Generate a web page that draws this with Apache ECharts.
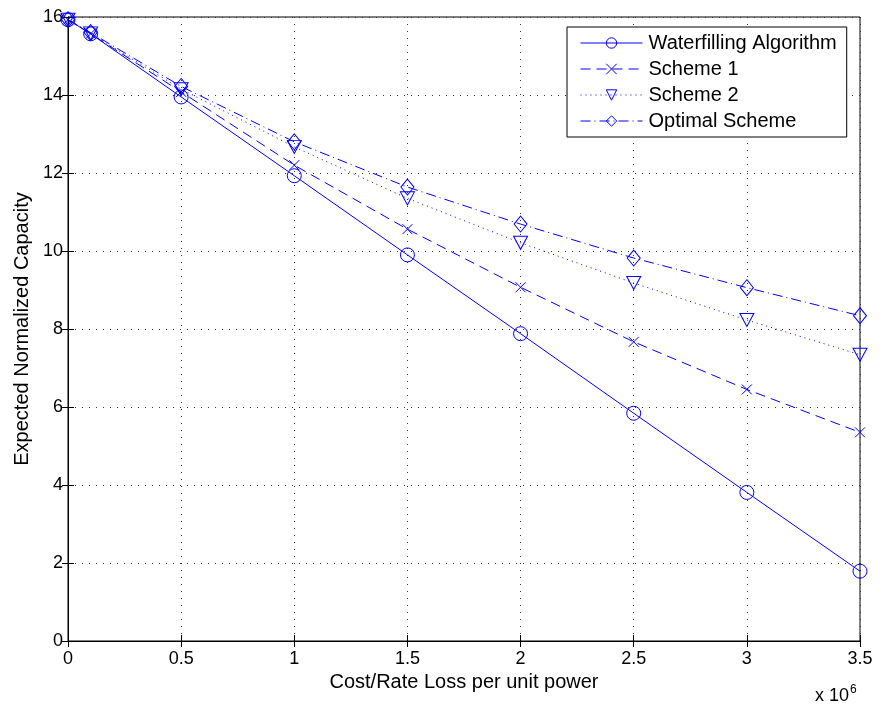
<!DOCTYPE html>
<html>
<head>
<meta charset="utf-8">
<script src="https://cdn.jsdelivr.net/npm/echarts@6/dist/echarts.min.js"></script>
<style>
  html, body { margin: 0; padding: 0; background: #fff; }
  #main { width: 880px; height: 709px; }
</style>
</head>
<body>
<div id="main"></div>
<script>
// cost per unit power, in units of 10^6
var xValues = [0, 0.1, 0.5, 1, 1.5, 2, 2.5, 3, 3.5];
var waterfilling = [15.93, 15.57, 13.95, 11.93, 9.9, 7.88, 5.84, 3.81, 1.79];
var scheme1 = [15.93, 15.57, 14.08, 12.2, 10.56, 9.07, 7.67, 6.45, 5.35];
var scheme2 = [15.93, 15.58, 14.15, 12.67, 11.35, 10.21, 9.18, 8.23, 7.34];
var optimal = [15.93, 15.6, 14.22, 12.8, 11.64, 10.69, 9.82, 9.06, 8.34];
var names = ['Waterfilling Algorithm', 'Scheme 1', 'Scheme 2', 'Optimal Scheme'];

var blue = '#0000ff';
var font = 'Liberation Sans, Arial, sans-serif';

function pairs(ys) {
  var out = [];
  for (var i = 0; i < xValues.length; i++) {
    out.push([xValues[i], ys[i]]);
  }
  return out;
}

function mkSeries(name, ys, symbol, size, dash) {
  return {
    name: name,
    type: 'line',
    data: pairs(ys),
    symbol: symbol,
    symbolSize: size,
    showAllSymbol: true,
    animation: false,
    lineStyle: { color: blue, width: 1, type: dash },
    itemStyle: { color: 'rgba(0,0,0,0)', borderColor: blue, borderWidth: 1 },
    emphasis: { disabled: true }
  };
}

var chart = echarts.init(document.getElementById('main'));

var gridLine = { show: true, lineStyle: { color: '#333', width: 1, type: [1, 6] } };
var tick = { show: true, inside: true, length: 6, lineStyle: { color: '#000' } };

var option = {
  backgroundColor: '#fff',
  animation: false,
  textStyle: { fontFamily: font },
  grid: {
    left: 68, right: 20, top: 17, bottom: 68,
    show: true, borderColor: '#000', borderWidth: 1
  },
  legend: {
    orient: 'vertical',
    left: 567, top: 27,
    padding: [6, 10, 6, 13],
    itemWidth: 62, itemHeight: 13, itemGap: 6,
    backgroundColor: '#fff',
    borderColor: '#000', borderWidth: 1,
    lineStyle: { width: 1 },
    itemStyle: { borderWidth: 1 },
    textStyle: { fontSize: 20, lineHeight: 20, color: '#000', fontFamily: font, padding: [0, 0, 0, 1] },
    data: names
  },
  xAxis: [{
    type: 'value',
    min: 0, max: 3.5, interval: 0.5,
    name: 'Cost/Rate Loss per unit power',
    nameLocation: 'middle', nameGap: 27,
    nameTextStyle: { fontSize: 20, color: '#000' },
    axisLine: { show: true, lineStyle: { color: '#000' } },
    axisTick: tick,
    axisLabel: { fontSize: 18, color: '#000', margin: 9 },
    splitLine: gridLine
  }, {
    type: 'value', position: 'top',
    min: 0, max: 3.5, interval: 0.5,
    axisLine: { show: true, lineStyle: { color: '#000' } },
    axisTick: tick, axisLabel: { show: false }, splitLine: { show: false }
  }],
  yAxis: [{
    type: 'value',
    min: 0, max: 16, interval: 2,
    name: 'Expected Normalized Capacity',
    nameLocation: 'middle', nameGap: 35,
    nameTextStyle: { fontSize: 20, color: '#000' },
    axisLine: { show: true, lineStyle: { color: '#000' } },
    axisTick: tick,
    axisLabel: { fontSize: 18, color: '#000', margin: 5 },
    splitLine: gridLine
  }, {
    type: 'value', position: 'right',
    min: 0, max: 16, interval: 2,
    axisLine: { show: true, lineStyle: { color: '#000' } },
    axisTick: tick, axisLabel: { show: false }, splitLine: { show: false }
  }],
  graphic: [{
    type: 'text',
    left: 815, top: 684,
    style: {
      text: 'x 10{s|6}',
      font: '18px ' + font,
      fill: '#000',
      rich: { s: { fontSize: 12, verticalAlign: 'top', padding: [0, 0, 12, 1] } }
    }
  }],
  series: [
    mkSeries(names[0], waterfilling, 'circle', 14, 'solid'),
    mkSeries(names[1], scheme1, 'path://M0,0L10,10M10,0L0,10', 10, [10, 6]),
    mkSeries(names[2], scheme2, 'path://M0,0L14,0L7,13Z', [14, 13], [1, 4]),
    mkSeries(names[3], optimal, 'diamond', [13, 16], [10, 4, 1, 4])
  ]
};

chart.setOption(option);
</script>
</body>
</html>
